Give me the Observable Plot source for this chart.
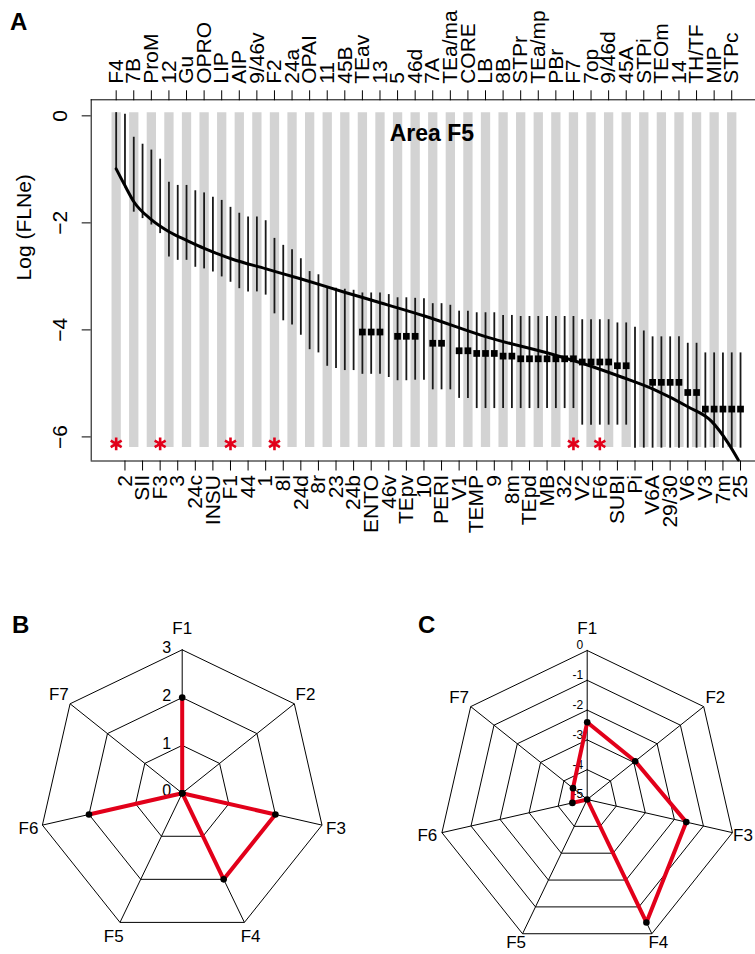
<!DOCTYPE html>
<html><head><meta charset="utf-8">
<script src="https://cdn.jsdelivr.net/npm/d3@7"></script>
<script src="https://cdn.jsdelivr.net/npm/@observablehq/plot@0.6"></script>
<style>
body{margin:0;background:#fff;}
#wrap{position:relative;width:755px;height:954px;overflow:hidden;background:#fff;font-family:"Liberation Sans",Arial,Helvetica,sans-serif;}
.panel{position:absolute;}
.plab{position:absolute;font-weight:bold;font-size:24px;line-height:1;color:#000;}
</style></head><body>
<div id="wrap">
<div id="pA" class="panel" style="left:0;top:0"></div>
<div id="pB" class="panel" style="left:0;top:590px"></div>
<div id="pC" class="panel" style="left:378px;top:590px"></div>
<div class="plab" style="left:10px;top:10px">A</div>
<div class="plab" style="left:12px;top:613px">B</div>
<div class="plab" style="left:418px;top:613px">C</div>
</div>
<script>
// ---------- Panel A data ----------
const topLabels = ["F4","7B","ProM","12","Gu","OPRO","LIP","AIP","9/46v","F2","24a","OPAI","11","45B","TEav","13","5","46d","7A","TEa/ma","CORE","LB","8B","STPr","TEa/mp","PBr","F7","7op","9/46d","45A","STPi","TEOm","14","TH/TF","MIP","STPc"];
const bottomLabels = ["2","SII","F3","3","24c","INSU","F1","44","1","8l","24d","8r","23","24b","ENTO","46v","TEpv","10","PERI","V1","TEMP","9","8m","TEpd","MB","32","V2","F6","SUBI","Pi","V6A","29/30","V6","V3","7m","25"];
const upper = [0.06,0.03,-0.40,-0.53,-0.64,-0.81,-1.24,-1.30,-1.30,-1.40,-1.44,-1.52,-1.58,-1.71,-1.82,-1.89,-1.89,-1.96,
  -2.29,-2.42,-2.50,-2.67,-2.91,-2.97,-3.20,-3.22,-3.24,-3.26,-3.31,-3.31,-3.31,-3.34,-3.40,-3.40,-3.41,-3.42,
  -3.51,-3.51,-3.54,-3.65,-3.65,-3.68,-3.68,-3.68,-3.73,-3.73,-3.75,-3.75,-3.75,-3.75,-3.75,-3.75,-3.75,-3.81,
  -3.81,-3.81,-3.81,-3.87,-3.87,-3.95,-4.02,-4.13,-4.13,-4.13,-4.13,-4.25,-4.25,-4.43,-4.43,-4.43,-4.43,-4.43];
const lower = [-0.99,-1.35,-1.80,-1.92,-2.04,-2.20,-2.64,-2.70,-2.70,-2.83,-2.86,-2.92,-3.01,-3.11,-3.23,-3.29,-3.29,-3.35,
  -3.70,-3.83,-3.91,-4.10,-4.37,-4.43,-4.68,-4.72,-4.76,-4.76,-4.83,-4.83,-4.83,-4.89,-4.95,-4.95,-4.94,-4.94,
  -5.12,-5.12,-5.12,-5.28,-5.28,-5.47,-5.47,-5.47,-5.47,-5.47,-5.47,-5.47,-5.47,-5.47,-5.47,-5.47,-5.47,-5.78,
  -5.78,-5.78,-5.78,-5.78,-5.78,-6.21,-6.21,-6.21,-6.21,-6.21,-6.21,-6.21,-6.21,-6.21,-6.21,-6.21,-6.21,-6.21];
const means = [null,null,null,null,null,null,null,null,null,null,null,null,null,null,null,null,null,null,
  null,null,null,null,null,null,null,null,null,null,-4.04,-4.04,-4.04,null,-4.12,-4.12,-4.12,null,
  -4.25,-4.25,null,-4.39,-4.39,-4.44,-4.44,-4.44,-4.49,-4.49,-4.54,-4.54,-4.54,-4.54,-4.54,-4.54,-4.54,-4.60,
  -4.60,-4.60,-4.60,-4.67,-4.67,null,null,-4.98,-4.98,-4.98,-4.98,-5.17,-5.17,-5.48,-5.48,-5.48,-5.48,-5.48];
const starred = ["F4","F3","F1","F2","F7","F6"];
const starValue = -6.13;
const curvePos = [0,0.89,2.03,3.93,6.06,8.06,10.08,13.07,17.06,21.05,26.06,29.36,35.06,42.28,49.86,53.67,57.46,61.25,65.06,67.71,69.61,70.75];
const curveVal = [-0.99,-1.27,-1.61,-1.93,-2.17,-2.33,-2.48,-2.67,-2.86,-3.05,-3.30,-3.46,-3.74,-4.14,-4.47,-4.66,-4.88,-5.12,-5.44,-5.71,-6.12,-6.43];
const yTicks = [0,-2,-4,-6];
const grayRange = [-6.2, 0.06];
const titleA = "Area F5";
const yLabel = "Log (FLNe)";

// ---------- Panels B/C data ----------
const radarAxes = ["F1","F2","F3","F4","F5","F6","F7"];
const radarB = [2,0,2,2,0,2,0];
const ringsB = [0,1,2,3];
const radarC = [-2.41,-2.94,-1.59,-0.42,-5,-4.49,-4.39];
const ringsC = [0,-1,-2,-3,-4,-5];

const font = '"Liberation Sans", Arial, Helvetica, sans-serif';
const red = "#E2001A";

// ---------- Panel A ----------
const areas = topLabels.flatMap((t, i) => [t, bottomLabels[i]]);
const cols = d3.range(areas.length);
const evenCols = cols.filter(i => i % 2 === 0);
const oddCols = cols.filter(i => i % 2 === 1);
const curve = curvePos.map((p, i) => ({pos: p, val: curveVal[i]}));
const xDom = [-2.84, 73.84], yDom = [-6.45, 0.30];

const plotA = Plot.plot({
  width: 755, height: 590,
  marginLeft: 90.7, marginRight: -10, marginTop: 99.3, marginBottom: 129.5,
  x: {domain: xDom, axis: null},
  y: {domain: yDom, axis: null},
  style: {fontFamily: font, fontSize: "20px", color: "black", background: "transparent", overflow: "hidden"},
  marks: [
    Plot.ruleX(evenCols, {x: d => d, y1: grayRange[0], y2: grayRange[1], stroke: "#d3d3d3", strokeWidth: 9.3}),
    Plot.ruleX(cols, {x: d => d, y1: i => lower[i], y2: i => upper[i], stroke: "#1a1a1a", strokeWidth: 1.8}),
    Plot.line(curve, {x: "pos", y: "val", stroke: "black", strokeWidth: 3, curve: "monotone-x"}),
    Plot.dot(cols.filter(i => means[i] != null), {x: d => d, y: i => means[i], symbol: "square", fill: "black", r: 3.8}),
    Plot.dot(cols.filter(i => starred.includes(areas[i])), {x: d => d, y: () => starValue, symbol: "asterisk", stroke: red, strokeWidth: 2.6, r: 6}),
    Plot.text([titleA], {text: d => d, frameAnchor: "top", dx: 3.6, dy: 33.7, fontWeight: "bold", fontSize: 23, lineAnchor: "middle"}),
    Plot.ruleY([yDom[0], yDom[1]], {stroke: "black", strokeWidth: 1}),
    Plot.ruleX([xDom[0]], {stroke: "black", strokeWidth: 1}),
    Plot.axisX({anchor: "top", ticks: evenCols, tickFormat: i => areas[i], tickRotate: -90, tickSize: 10, tickPadding: 6, fontSize: 21, label: null}),
    Plot.axisX({anchor: "bottom", ticks: oddCols, tickFormat: i => areas[i], tickRotate: -90, tickSize: 10, tickPadding: 4, fontSize: 21, label: null}),
    Plot.axisY({anchor: "left", ticks: yTicks, tickSize: 9, tickFormat: () => "", label: null}),
    Plot.text(yTicks, {x: () => xDom[0], y: d => d, text: d => d === 0 ? "0" : "\u2212" + Math.abs(d), rotate: -90, dx: -31, fontSize: 21, lineAnchor: "middle"}),
    Plot.text([yLabel], {text: d => d, frameAnchor: "left", dx: -66.7, rotate: -90, fontSize: 21, lineAnchor: "middle"})
  ]
});
document.getElementById("pA").appendChild(plotA);

// ---------- Radar helper ----------
function radar(el, values, rings, opts) {
  const n = radarAxes.length;
  const ang = k => Math.PI / 2 - k * 2 * Math.PI / n;
  const rad = v => v - opts.min;   // radius in ring units
  const outer = rad(opts.max);
  const pts = values.map((v, k) => ({k, x: rad(v) * Math.cos(ang(k)), y: rad(v) * Math.sin(ang(k))}));
  const poly = [...pts, pts[0]];
  const ringPts = rings.filter(r => rad(r) > 0).flatMap(r =>
    d3.range(n + 1).map(k => ({ring: r, x: rad(r) * Math.cos(ang(k % n)), y: rad(r) * Math.sin(ang(k % n))})));
  const spokes = d3.range(n).map(k => ({x: outer * Math.cos(ang(k)), y: outer * Math.sin(ang(k))}));
  const labR = outer * 1.1;
  const labs = radarAxes.map((a, k) => ({a, k, x: labR * Math.cos(ang(k)), y: labR * Math.sin(ang(k))}));
  const s = opts.scale;
  const p = Plot.plot({
    width: opts.w, height: opts.h, margin: 0,
    x: {domain: [-opts.cx / s, (opts.w - opts.cx) / s], axis: null},
    y: {domain: [-(opts.h - opts.cy) / s, opts.cy / s], axis: null},
    style: {fontFamily: font, fontSize: "16px", color: "black", background: "transparent", overflow: "visible"},
    marks: [
      Plot.line(ringPts, {x: "x", y: "y", z: "ring", stroke: "black", strokeWidth: 1}),
      Plot.link(spokes, {x1: () => 0, y1: () => 0, x2: "x", y2: "y", stroke: "black", strokeWidth: 1}),
      Plot.text(rings, {x: () => 0, y: r => rad(r), text: r => String(r), textAnchor: "end", dx: opts.ringDx, dy: opts.ringDy, fontSize: opts.ringFont}),
      Plot.line(poly, {x: "x", y: "y", stroke: red, strokeWidth: 4}),
      Plot.dot(pts, {x: "x", y: "y", fill: "black", r: 3.3}),
      Plot.text(labs.filter(d => d.k === 0), {x: "x", y: "y", text: "a", fontSize: 17, dy: -7}),
      Plot.text(labs.filter(d => d.k === 2), {x: "x", y: "y", text: "a", fontSize: 17, dx: opts.rightDx}),
      Plot.text(labs.filter(d => d.k === 3 || d.k === 4), {x: "x", y: "y", text: "a", fontSize: 17, dy: opts.bottomDy}),
      Plot.text(labs.filter(d => d.k === 1 || d.k === 5 || d.k === 6), {x: "x", y: "y", text: "a", fontSize: 17})
    ]
  });
  document.getElementById(el).appendChild(p);
}
radar("pB", radarB, ringsB, {min: 0, max: 3, scale: 47.8, w: 378, h: 364, cx: 181.7, cy: 202.7, ringDx: -11, ringDy: -2, ringFont: 16, bottomDy: 1, rightDx: 0});
radar("pC", radarC, ringsC, {min: -5, max: 0, scale: 29.8, w: 377, h: 364, cx: 208.7, cy: 209, ringDx: -4, ringDy: -5, ringFont: 12, bottomDy: -5, rightDx: -4});
</script>
</body></html>
